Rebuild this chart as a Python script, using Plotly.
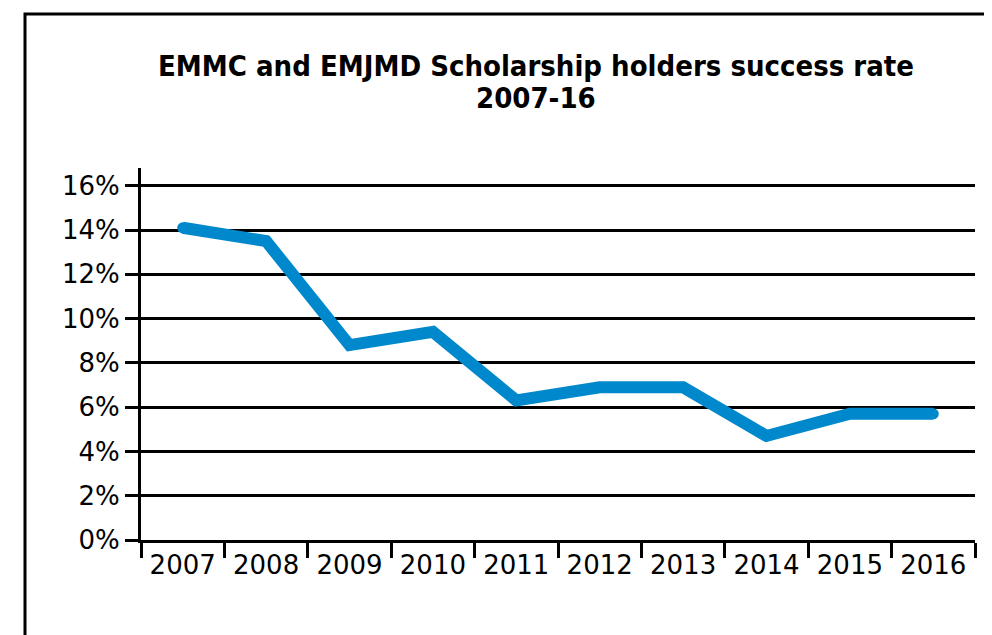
import plotly.graph_objects as go

years = ["2007", "2008", "2009", "2010", "2011", "2012", "2013", "2014", "2015", "2016"]
success_rate = [14.1, 13.5, 8.8, 9.4, 6.3, 6.9, 6.9, 4.7, 5.7, 5.7]
y_tick_values = [0, 2, 4, 6, 8, 10, 12, 14, 16]
y_tick_labels = ["0%", "2%", "4%", "6%", "8%", "10%", "12%", "14%", "16%"]
title_lines = ["EMMC and EMJMD Scholarship holders success rate", "2007-16"]

# page body has an 8px margin; compensate so the plot lands where the reference has it
OFF = 8
W, H = 992, 635
L, R, T, B = 141 - OFF, 992 - 975 + OFF, 168 - OFF, 635 - 540 + OFF
pw, ph = W - L - R, H - T - B

fig = go.Figure(go.Scatter(
    x=years, y=success_rate, mode="lines+markers",
    line=dict(color="#0088CC", width=12),
    marker=dict(color="#0088CC", size=11, line=dict(width=0)),
    hoverinfo="x+y",
))

def px2paper_x(px):
    return (px - OFF - L) / pw

def py2paper_y(py):
    return (H - B - (py - OFF)) / ph

title_font = dict(family="DejaVu Sans Condensed", size=29, color="black", weight="bold")
annotations = [
    dict(text=title_lines[0], xref="paper", yref="paper",
         x=px2paper_x(536), y=py2paper_y(66), xanchor="center", yanchor="middle",
         showarrow=False, font=title_font),
    dict(text=title_lines[1], xref="paper", yref="paper",
         x=px2paper_x(536), y=py2paper_y(98), xanchor="center", yanchor="middle",
         showarrow=False, font=title_font),
]

fig.update_layout(
    width=W, height=H,
    margin=dict(l=L, r=R, t=T, b=B),
    paper_bgcolor="white", plot_bgcolor="white",
    showlegend=False,
    font=dict(family="DejaVu Sans", color="black", size=26),
    annotations=annotations,
    xaxis=dict(
        type="category", range=[-0.5, 9.5],
        showline=True, linecolor="black", linewidth=3,
        ticks="outside", tickson="boundaries", ticklen=15, tickwidth=3, tickcolor="black",
        showgrid=False, zeroline=False,
        tickfont=dict(size=26, family="DejaVu Sans"),
    ),
    yaxis=dict(
        range=[0, 16.8],
        tickvals=y_tick_values, ticktext=y_tick_labels,
        showline=True, linecolor="black", linewidth=3,
        ticks="outside", ticklen=13, tickwidth=3, tickcolor="black",
        showgrid=True, gridcolor="black", gridwidth=3,
        zeroline=False,
        tickfont=dict(size=26, family="DejaVu Sans"),
    ),
    shapes=[dict(
        type="rect", xref="paper", yref="paper",
        x0=px2paper_x(25), x1=px2paper_x(1010),
        y0=py2paper_y(660), y1=py2paper_y(14),
        line=dict(color="black", width=3), fillcolor="rgba(0,0,0,0)",
        layer="below",
    )],
)

fig.write_html("out.html")
